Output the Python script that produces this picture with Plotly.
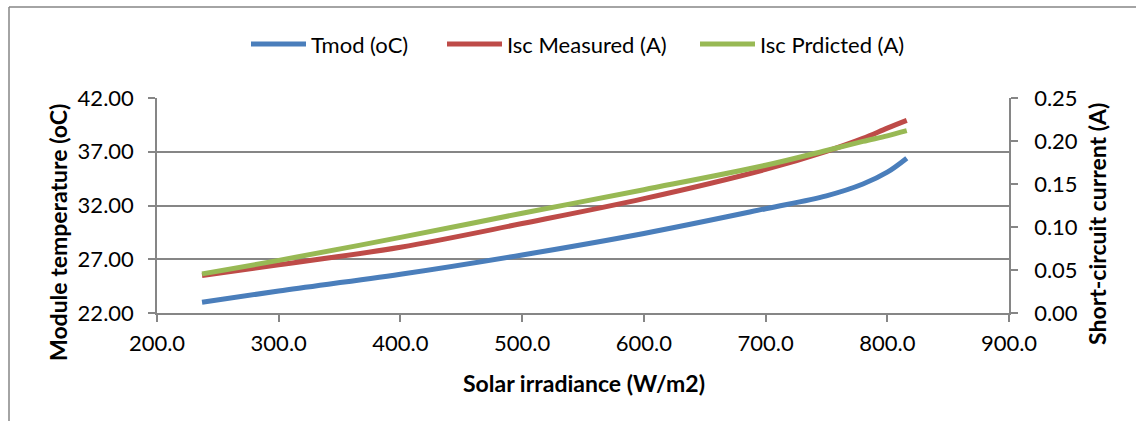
import plotly.graph_objects as go

# Solar irradiance (W/m2) at which the module was sampled
irradiance = [237, 300, 400, 500, 600, 700, 750, 780, 800, 816]
# Module temperature (oC)
tmod = [23.0, 24.05, 25.6, 27.4, 29.4, 31.7, 32.9, 34.0, 35.1, 36.4]
# Short-circuit current, measured (A)
isc_measured = [0.0435, 0.056, 0.0765, 0.104, 0.133, 0.167, 0.188, 0.203, 0.215, 0.224]
# Short-circuit current, predicted (A)
isc_predicted = [0.0455, 0.0612, 0.0879, 0.116, 0.1434, 0.1718, 0.189, 0.1995, 0.206, 0.212]

x_ticks = [200, 300, 400, 500, 600, 700, 800, 900]
left_ticks = [22, 27, 32, 37, 42]
right_ticks = [0.0, 0.05, 0.10, 0.15, 0.20, 0.25]

FONT = "Lato, 'Open Sans', sans-serif"
GRID = "#868686"
L_MARGIN, PLOT_W = 157, 852
T_MARGIN, PLOT_H = 98, 215


def px_to_paper_x(px):
    return (px - L_MARGIN) / PLOT_W


def px_to_paper_y(py):
    return (T_MARGIN + PLOT_H - py) / PLOT_H


fig = go.Figure()
fig.add_trace(go.Scatter(x=irradiance, y=tmod, name="Tmod (oC)", mode="lines",
                         legend="legend",
                         line=dict(color="#4A7EBB", width=5, shape="spline", smoothing=1.0)))
fig.add_trace(go.Scatter(x=irradiance, y=isc_measured, name="Isc Measured (A)", mode="lines",
                         yaxis="y2", legend="legend2",
                         line=dict(color="#BE4B48", width=5, shape="spline", smoothing=1.0)))
fig.add_trace(go.Scatter(x=irradiance, y=isc_predicted, name="Isc Prdicted (A)", mode="lines",
                         yaxis="y2", legend="legend3",
                         line=dict(color="#98B954", width=5, shape="spline", smoothing=1.0)))

axis_common = dict(
    showline=True, linecolor=GRID, linewidth=1.5,
    ticks="outside", ticklen=7, tickcolor=GRID, tickwidth=1.5,
    tickfont=dict(family=FONT, size=22, color="#000000"),
    zeroline=False,
)

legend_common = dict(orientation="h", xanchor="left", y=1.25, yanchor="middle",
                     font=dict(family=FONT, size=22), itemwidth=55,
                     bgcolor="rgba(0,0,0,0)")

fig.update_layout(
    width=1136, height=421,
    margin=dict(l=L_MARGIN, r=127, t=T_MARGIN, b=108),
    paper_bgcolor="white", plot_bgcolor="white",
    font=dict(family=FONT, color="#000000"),
    showlegend=True,
    legend=dict(x=px_to_paper_x(246), **legend_common),
    legend2=dict(x=px_to_paper_x(442), **legend_common),
    legend3=dict(x=px_to_paper_x(695), **legend_common),
    xaxis=dict(range=[200, 900], tickvals=x_ticks, tickformat=".1f",
               showgrid=False, ticklabelstandoff=3, **axis_common),
    yaxis=dict(range=[22, 42], tickvals=left_ticks, tickformat=".2f",
               showgrid=True, gridcolor=GRID, gridwidth=1.5,
               ticklabelstandoff=10, **axis_common),
    yaxis2=dict(range=[0, 0.25], tickvals=right_ticks, tickformat=".2f",
                overlaying="y", side="right", showgrid=False,
                ticklabelstandoff=12, **axis_common),
)

# Axis titles
title_font = dict(family=FONT, size=23, color="#000000", weight="bold")
fig.add_annotation(text="Solar irradiance (W/m2)", xref="paper", yref="paper",
                   x=px_to_paper_x(584), y=px_to_paper_y(383), showarrow=False,
                   font=title_font, xanchor="center", yanchor="middle")
fig.add_annotation(text="Module temperature (oC)", xref="paper", yref="paper",
                   x=px_to_paper_x(58), y=px_to_paper_y(233), showarrow=False,
                   font=title_font, textangle=-90, xanchor="center", yanchor="middle")
fig.add_annotation(text="Short-circuit current (A)", xref="paper", yref="paper",
                   x=px_to_paper_x(1097), y=px_to_paper_y(224), showarrow=False,
                   font=title_font, textangle=-90, xanchor="center", yanchor="middle")

# Chart-area frame (left and top edges)
fig.add_shape(type="line", xref="paper", yref="paper",
              x0=px_to_paper_x(9), x1=px_to_paper_x(9), y0=px_to_paper_y(7), y1=px_to_paper_y(430),
              line=dict(color=GRID, width=1.5))
fig.add_shape(type="line", xref="paper", yref="paper",
              x0=px_to_paper_x(9), x1=px_to_paper_x(1140), y0=px_to_paper_y(7), y1=px_to_paper_y(7),
              line=dict(color=GRID, width=1.5))

fig.write_html("out.html")
